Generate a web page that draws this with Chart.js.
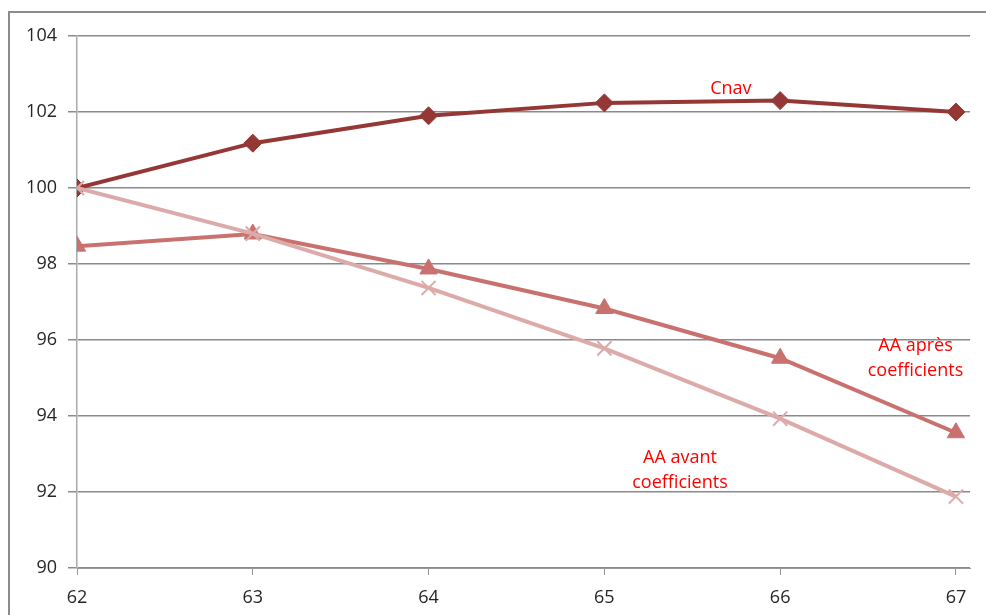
<!DOCTYPE html>
<html>
<head>
<meta charset="utf-8">
<script src="https://cdn.jsdelivr.net/npm/chart.js@4/dist/chart.umd.min.js"></script>
<style>
  html, body { margin: 0; padding: 0; background: #fff; }
  #wrap { position: relative; width: 986px; height: 615px; }
</style>
</head>
<body>
<div id="wrap"><canvas id="c" width="986" height="615"></canvas></div>
<script>
// Ages (x) and indices (base 100)
const ages = [62, 63, 64, 65, 66, 67];
const cnav = [100, 101.18, 101.9, 102.24, 102.3, 102.0];
const aaApres = [98.47, 98.79, 97.87, 96.83, 95.52, 93.56];
const aaAvant = [100, 98.8, 97.37, 95.78, 93.93, 91.88];
const yTicks = [90, 92, 94, 96, 98, 100, 102, 104];

// Series names written next to the curves, in data coordinates
const seriesLabels = [
  { lines: ['Cnav'], x: 65.72, y: 102.6 },
  { lines: ['AA après', 'coefficients'], x: 66.77, y: 95.84 },
  { lines: ['AA avant', 'coefficients'], x: 65.43, y: 92.9 }
];

const pts = (ys) => ages.map((a, i) => ({ x: a, y: ys[i] }));

const frame = {
  id: 'frame',
  beforeDraw(chart) {
    const ctx = chart.ctx;
    ctx.save();
    ctx.fillStyle = '#fff';
    ctx.fillRect(0, 0, chart.width, chart.height);
    ctx.strokeStyle = '#8c8c8c';
    ctx.lineWidth = 2;
    ctx.beginPath();
    ctx.moveTo(9, chart.height);
    ctx.lineTo(9, 12);
    ctx.lineTo(chart.width, 12);
    ctx.stroke();
    ctx.restore();
  }
};

const curveLabels = {
  id: 'curveLabels',
  afterDatasetsDraw(chart) {
    const ctx = chart.ctx;
    const xs = chart.scales.x, ys = chart.scales.y;
    ctx.save();
    ctx.fillStyle = '#ff0000';
    ctx.font = '18px "Open Sans", sans-serif';
    ctx.textAlign = 'center';
    ctx.textBaseline = 'middle';
    seriesLabels.forEach(l => {
      const px = xs.getPixelForValue(l.x);
      const py = ys.getPixelForValue(l.y);
      l.lines.forEach((t, i) => ctx.fillText(t, px, py + i * 25));
    });
    ctx.restore();
  }
};

new Chart(document.getElementById('c'), {
  type: 'scatter',
  data: {
    datasets: [
      {
        label: 'AA avant coefficients',
        data: pts(aaAvant),
        showLine: true,
        borderColor: '#dcaaa8',
        backgroundColor: '#dcaaa8',
        borderWidth: 4,
        pointStyle: 'crossRot',
        pointRadius: 10,
        pointBorderWidth: 2,
        pointBorderColor: '#dcaaa8'
      },
      {
        label: 'AA après coefficients',
        data: pts(aaApres),
        showLine: true,
        borderColor: '#c8716f',
        backgroundColor: '#c8716f',
        borderWidth: 4,
        pointStyle: 'triangle',
        pointRadius: 10,
        pointBorderWidth: 1
      },
      {
        label: 'Cnav',
        data: pts(cnav),
        showLine: true,
        borderColor: '#953735',
        backgroundColor: '#953735',
        borderWidth: 4,
        pointStyle: 'rectRot',
        pointRadius: 9,
        pointBorderWidth: 1
      }
    ]
  },
  options: {
    responsive: false,
    animation: false,
    devicePixelRatio: 1,
    layout: { padding: { top: 36, right: 16, left: 0, bottom: 0 } },
    plugins: { legend: { display: false }, tooltip: { enabled: false } },
    scales: {
      x: {
        type: 'linear',
        min: 62,
        max: 67.08,
        afterFit(s) { s.height = 47; },
        ticks: {
          stepSize: 1,
          includeBounds: false,
          padding: 12,
          color: '#262626',
          font: { family: '"Open Sans", sans-serif', size: 18 }
        },
        grid: { drawOnChartArea: false, drawTicks: true, tickLength: 7, color: '#999', lineWidth: 1 },
        border: { display: true, color: '#999', width: 1 }
      },
      y: {
        min: 90,
        max: 104,
        afterFit(s) { s.width = 77; },
        afterBuildTicks(s) { s.ticks = yTicks.map(v => ({ value: v })); },
        ticks: {
          padding: 11,
          color: '#262626',
          font: { family: '"Open Sans", sans-serif', size: 18 }
        },
        grid: { color: '#8a8a8a', lineWidth: 1.5, tickLength: 9 },
        border: { display: true, color: '#aaa', width: 1.5 }
      }
    }
  },
  plugins: [frame, curveLabels]
});
</script>
</body>
</html>
